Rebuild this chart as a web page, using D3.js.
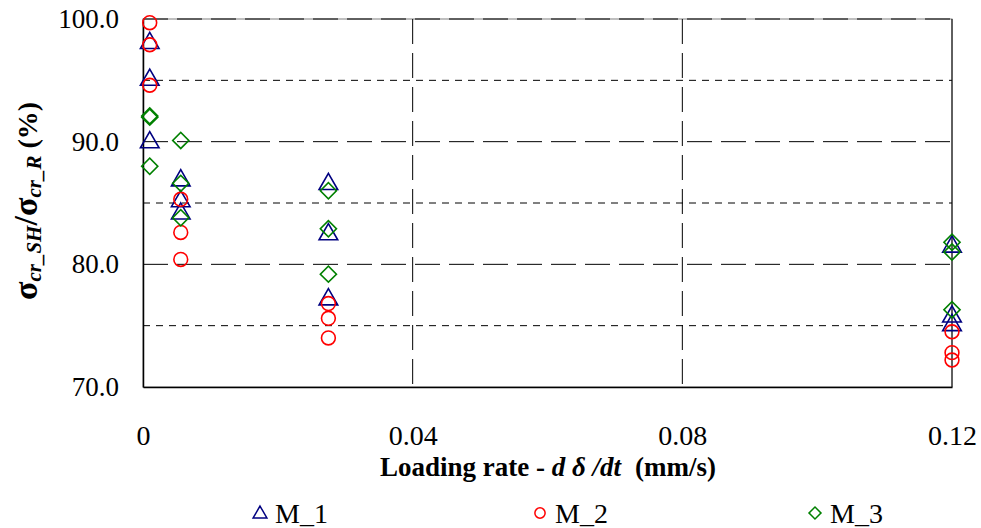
<!DOCTYPE html>
<html>
<head>
<meta charset="utf-8">
<script src="https://cdn.jsdelivr.net/npm/d3@7"></script>
</head>
<body style="margin:0">
<svg id="chart" width="981" height="528" style="font-family: serif"></svg>
<script>
// loading rates (mm/s) tested, three specimens per rate
var rates = [0.001, 0.0056, 0.0275, 0.12];

// sigma_cr_SH / sigma_cr_R (%) for each rate
var m1 = [[98.2, 95.2, 90.1], [87.0, 85.3, 84.3], [86.7, 82.6, 77.3], [81.6, 75.9, 75.2]];
var m2 = [[99.7, 97.9, 94.6], [85.3, 82.6, 80.4], [76.8, 75.6, 74.0], [74.5, 72.8, 72.2]];
var m3 = [[92.1, 92.0, 88.0], [90.1, 86.6, 83.8], [86.0, 82.9, 79.2], [81.8, 81.0, 76.3]];

var xTicks = [0, 0.04, 0.08, 0.12];
var yMajor = [70, 80, 90, 100];
var yMinor = [75, 85, 95];

var seriesNames = ["M_1", "M_2", "M_3"];
var seriesColors = ["#000080", "#ff0000", "#008000"];

var svg = d3.select("#chart");

var x = d3.scaleLinear().domain([0, 0.12]).range([143, 952]);
var y = d3.scaleLinear().domain([70, 100]).range([387, 19]);

// marker shapes: triangle, circle, square turned 45deg
function marker(i, scale) {
  if (i === 0) return d3.symbol().type(d3.symbolTriangle).size(150 * scale)();
  if (i === 1) return d3.symbol().type(d3.symbolCircle).size(150 * scale)();
  return d3.symbol().type(d3.symbolSquare).size(130 * scale)();
}
function markerRot(i) { return i === 2 ? " rotate(45)" : ""; }

// plot frame
svg.append("rect")
  .attr("x", x(0)).attr("y", y(100))
  .attr("width", x(0.12) - x(0)).attr("height", y(70) - y(100))
  .attr("fill", "none").attr("stroke", "#808080").attr("stroke-width", 1);

// minor horizontal gridlines - short dash
svg.selectAll(".minor").data(yMinor).enter().append("line")
  .attr("x1", x(0)).attr("x2", x(0.12))
  .attr("y1", function(d) { return y(d); }).attr("y2", function(d) { return y(d); })
  .attr("stroke", "#000").attr("stroke-width", 1)
  .attr("stroke-dasharray", "7,6");

// major horizontal gridlines - long dash
svg.selectAll(".major").data(yMajor.filter(function(d) { return d > 70; })).enter().append("line")
  .attr("x1", x(0)).attr("x2", x(0.12))
  .attr("y1", function(d) { return y(d); }).attr("y2", function(d) { return y(d); })
  .attr("stroke", "#000").attr("stroke-width", 1)
  .attr("stroke-dasharray", "25,9");

// vertical gridlines
svg.selectAll(".vgrid").data(xTicks.filter(function(d) { return d > 0 && d < 0.12; })).enter().append("line")
  .attr("x1", function(d) { return x(d); }).attr("x2", function(d) { return x(d); })
  .attr("y1", y(100)).attr("y2", y(70))
  .attr("stroke", "#000").attr("stroke-width", 1)
  .attr("stroke-dasharray", "25,9");

// right edge
svg.append("line")
  .attr("x1", x(0.12)).attr("x2", x(0.12)).attr("y1", y(100)).attr("y2", y(70))
  .attr("stroke", "#000").attr("stroke-width", 1);

// axes (drop d3's sans-serif default so the svg's serif applies)
var xAxis = d3.axisBottom(x).tickValues(xTicks).tickSize(0).tickPadding(38)
  .tickFormat(function(d) { return d === 0 ? "0" : d3.format(".2f")(d); });
var gx = svg.append("g").attr("transform", "translate(0," + y(70) + ")").call(xAxis)
  .attr("font-family", null).attr("font-size", null);
gx.select(".domain").attr("stroke", "#000").attr("stroke-width", 1.5);
gx.selectAll("text").style("font-size", "28px").attr("fill", "#000");

var yAxis = d3.axisLeft(y).tickValues(yMajor).tickSize(0).tickPadding(24)
  .tickFormat(d3.format(".1f"));
var gy = svg.append("g").attr("transform", "translate(" + x(0) + ",0)").call(yAxis)
  .attr("font-family", null).attr("font-size", null);
gy.select(".domain").attr("stroke", "#000").attr("stroke-width", 1.5);
gy.selectAll("text").style("font-size", "27px").attr("fill", "#000");

// points
var allSeries = [m1, m2, m3];
allSeries.forEach(function(series, s) {
  var pts = [];
  series.forEach(function(vals, i) {
    vals.forEach(function(v) { pts.push({ x: rates[i], y: v }); });
  });
  svg.append("g").selectAll("path").data(pts).enter().append("path")
    .attr("d", marker(s, 1))
    .attr("transform", function(d) {
      var dy = s === 0 ? 2 : 0;
      return "translate(" + x(d.x) + "," + (y(d.y) + dy) + ")" + markerRot(s);
    })
    .attr("fill", "none")
    .attr("stroke", seriesColors[s])
    .attr("stroke-width", 1.6);
});

// axis titles
var xt = svg.append("text")
  .attr("x", 548).attr("y", 476)
  .attr("text-anchor", "middle")
  .style("font-size", "27px").style("font-weight", "bold");
xt.append("tspan").text("Loading rate - ");
xt.append("tspan").style("font-style", "italic").text("d ");
xt.append("tspan").style("font-style", "italic").text("\u03b4");
xt.append("tspan").style("font-style", "italic").text(" /dt");
xt.append("tspan").attr("dx", 14).text("(mm/s)");

var yt = svg.append("text")
  .attr("transform", "translate(37,201) rotate(-90)")
  .attr("text-anchor", "middle")
  .style("font-weight", "bold").style("font-size", "34px");
yt.append("tspan").text("\u03c3");
yt.append("tspan").style("font-size", "21px").style("font-style", "italic").attr("dy", 4).text("cr_SH");
yt.append("tspan").attr("dy", -4).text("/\u03c3");
yt.append("tspan").style("font-size", "21px").style("font-style", "italic").attr("dy", 4).text("cr_R");
yt.append("tspan").attr("dy", -4).style("font-size", "28px").text(" (%)");

// legend
var legX = [260, 540, 815];
var leg = svg.append("g").selectAll("g").data(seriesNames).enter().append("g")
  .attr("transform", function(d, i) { return "translate(" + legX[i] + ",513)"; });
leg.append("path")
  .attr("d", function(d, i) { return marker(i, 0.55); })
  .attr("transform", function(d, i) { return i === 0 ? "translate(0,1)" : (i === 2 ? "rotate(45)" : null); })
  .attr("fill", "none")
  .attr("stroke", function(d, i) { return seriesColors[i]; })
  .attr("stroke-width", 1.5);
leg.append("text")
  .attr("x", 15).attr("y", 10)
  .style("font-size", "28px")
  .text(function(d) { return d; });
</script>
</body>
</html>
